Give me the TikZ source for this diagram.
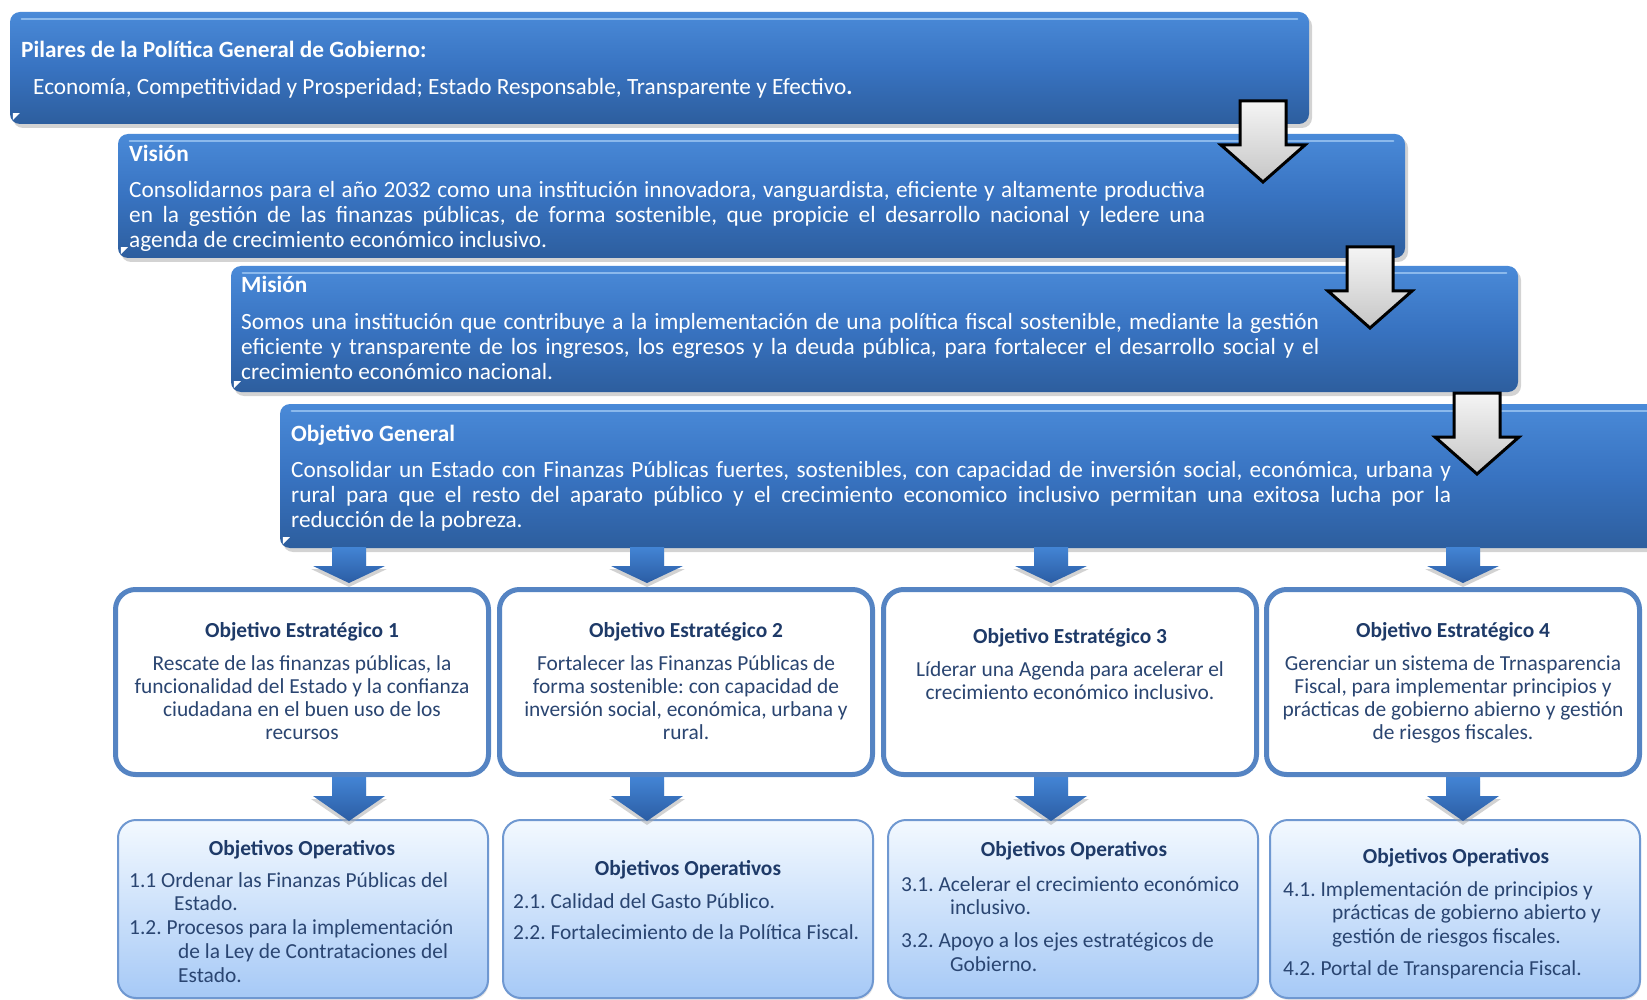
\documentclass[tikz,border=0pt]{standalone}
\usepackage{fontspec}
\setmainfont{Carlito}
\usepackage{xcolor}
\usepackage{tikz}
\usetikzlibrary{positioning,shadows}

\definecolor{boxtop}{HTML}{4A8AD8}
\definecolor{boxmid}{HTML}{3873C1}
\definecolor{boxbot}{HTML}{2D5E9E}
\definecolor{gloss}{HTML}{9CC6F2}
\definecolor{estline}{HTML}{5584C3}
\definecolor{opline}{HTML}{6F98D1}
\definecolor{optop}{HTML}{F3F9FF}
\definecolor{opbot}{HTML}{A6C9F6}
\definecolor{navy}{HTML}{1E3A68}
\definecolor{bodytxt}{HTML}{2A4571}
\definecolor{arrtop}{HTML}{4384D4}
\definecolor{arrbot}{HTML}{2B5DA4}

\begin{document}
\begin{tikzpicture}[x=1pt,y=-1pt,
    bluebox/.style={rounded corners=10pt, top color=boxtop, bottom color=boxbot, middle color=boxmid,
        drop shadow={shadow xshift=3pt, shadow yshift=-4pt, opacity=0.35}},
    wtext/.style={white, inner sep=0pt, font=\fontsize{23.3}{25.2}\selectfont\frenchspacing},
    wtitle/.style={wtext, font=\fontsize{23.3}{25.2}\selectfont\bfseries, anchor=base west},
    wpar/.style={wtext, align=justify, anchor=north west},
    estbox/.style={rounded corners=20pt, draw=estline, line width=5pt, fill=white,
        minimum width=373pt, minimum height=185pt},
    opbox/.style={rounded corners=18pt, draw=opline, line width=2pt, top color=optop, bottom color=opbot,
        minimum width=370pt, minimum height=178pt,
        drop shadow={shadow xshift=1pt, shadow yshift=-2pt, opacity=0.2}},
    btitle/.style={navy, inner sep=0pt, font=\fontsize{21.4}{23.3}\selectfont\bfseries, anchor=base},
    btext/.style={bodytxt, inner sep=0pt, font=\fontsize{21.4}{23.3}\selectfont\frenchspacing},
    optext/.style={btext, font=\fontsize{21.4}{23.9}\selectfont\frenchspacing, align=left, anchor=north west},
    grayarr/.style={draw=black, line width=3pt, top color=gray!8, bottom color=gray!45},
    bluearr/.style={top color=arrtop, bottom color=arrbot}]
    \useasboundingbox (0,0) rectangle (1647,1000);
    \clip (0,0) rectangle (1647,1000);

    % big blue boxes
    \node[bluebox, minimum width=1299pt, minimum height=112pt] (pil) at (659.5,68) {};
    \node[bluebox, minimum width=1287pt, minimum height=124pt] (vis) at (761.5,196) {};
    \node[bluebox, minimum width=1287pt, minimum height=126pt] (mis) at (874.5,329) {};
    \node[bluebox, minimum width=1440pt, minimum height=144pt] (og) at (1000,476) {};
    \foreach \b in {pil,vis,mis,og}{
        \draw[gloss, line width=2.5pt, line cap=round, opacity=0.8]
            ([xshift=12pt,yshift=-7pt]\b.north west) -- ([xshift=-12pt,yshift=-7pt]\b.north east);
        \fill[white] ([xshift=3pt,yshift=11pt]\b.south west) -- ++(7,0) -- ++(-7,7) -- cycle;
    }

    % texts of the blue boxes
    \node[wtitle] (pilT) at (21,58) {Pilares de la Política General de Gobierno:};
    \node[wtext, anchor=base west] (pilB) at (33,95)
        {Economía, Competitividad y Prosperidad; Estado Responsable, Transparente y Efectivo\textbf{.}};

    \node[wtitle] (visT) at (129,162) {Visión};
    \node[wpar, text width=1076pt] (visB) at (129,181)
        {Consolidarnos para el año 2032 como una institución innovadora, vanguardista, eficiente y altamente productiva\linebreak
        en la gestión de las finanzas públicas, de forma sostenible, que propicie el desarrollo nacional y ledere una\linebreak
        agenda de crecimiento económico inclusivo.};

    \node[wtitle] (misT) at (241,293) {Misión};
    \node[wpar, text width=1078pt] (misB) at (241,313)
        {Somos una institución que contribuye a la implementación de una política fiscal sostenible, mediante la gestión\linebreak
        eficiente y transparente de los ingresos, los egresos y la deuda pública, para fortalecer el desarrollo social y el\linebreak
        crecimiento económico nacional.};

    \node[wtitle] (ogT) at (291,441) {Objetivo General};
    \node[wpar, text width=1160pt] (ogB) at (291,461)
        {Consolidar un Estado con Finanzas Públicas fuertes, sostenibles, con capacidad de inversión social, económica, urbana y\linebreak
        rural para que el resto del aparato público y el crecimiento economico inclusivo permitan una exitosa lucha por la\linebreak
        reducción de la pobreza.};

    % gray arrows between blue boxes
    \foreach \cx/\ty in {1263/101,1370/247,1477/393}{
        \draw[grayarr] (\cx-23,\ty) -- (\cx+23,\ty) -- (\cx+23,\ty+44) -- (\cx+42,\ty+44)
            -- (\cx,\ty+81) -- (\cx-42,\ty+44) -- (\cx-23,\ty+44) -- cycle;
    }

    % strategic boxes
    \node[estbox] (es1) at (302,682) {};
    \node[estbox] (es2) at (686,682) {};
    \node[estbox] (es3) at (1070,682) {};
    \node[estbox] (es4) at (1453,682) {};

    \node[btitle] (es1T) at (302,637) {Objetivo Estratégico 1};
    \node[btext, align=center, anchor=north] (es1B) at (302,655)
        {Rescate de las finanzas públicas, la\\funcionalidad del Estado y la confianza\\ciudadana en el buen uso de los\\recursos};
    \node[btitle] (es2T) at (686,637) {Objetivo Estratégico 2};
    \node[btext, align=center, anchor=north] (es2B) at (686,655)
        {Fortalecer las Finanzas Públicas de\\forma sostenible: con capacidad de\\inversión social, económica, urbana y\\rural.};
    \node[btitle] (es3T) at (1070,643) {Objetivo Estratégico 3};
    \node[btext, align=center, anchor=north] (es3B) at (1070,661)
        {Líderar una Agenda para acelerar el\\crecimiento económico inclusivo.};
    \node[btitle] (es4T) at (1453,637) {Objetivo Estratégico 4};
    \node[btext, align=center, anchor=north] (es4B) at (1453,655)
        {Gerenciar un sistema de Trnasparencia\\Fiscal, para implementar principios y\\prácticas de gobierno abierno y gestión\\de riesgos fiscales.};

    % operative boxes
    \node[opbox] (op1) at (303,909) {};
    \node[opbox] (op2) at (688,909) {};
    \node[opbox] (op3) at (1073,909) {};
    \node[opbox] (op4) at (1455,909) {};

    \node[btitle] (op1T) at (302,855) {Objetivos Operativos};
    \node[optext] (op1B) at (129,872)
        {1.1 Ordenar las Finanzas Públicas del\\\hspace*{45pt}Estado.\\1.2. Procesos para la implementación\\
        \hspace*{49pt}de la Ley de Contrataciones del\\\hspace*{49pt}Estado.};
    \node[btitle] (op2T) at (688,875) {Objetivos Operativos};
    \node[optext] (op2B) at (513,893)
        {2.1. Calidad del Gasto Público.\\[8pt]2.2. Fortalecimiento de la Política Fiscal.};
    \node[btitle] (op3T) at (1074,856) {Objetivos Operativos};
    \node[optext] (op3B) at (901,876)
        {3.1. Acelerar el crecimiento económico\\\hspace*{49pt}inclusivo.\\[9pt]3.2. Apoyo a los ejes estratégicos de\\
        \hspace*{49pt}Gobierno.};
    \node[btitle] (op4T) at (1456,863) {Objetivos Operativos};
    \node[optext] (op4B) at (1283,881)
        {4.1. Implementación de principios y\\\hspace*{49pt}prácticas de gobierno abierto y\\
        \hspace*{49pt}gestión de riesgos fiscales.\\[8pt]4.2. Portal de Transparencia Fiscal.};

    % blue arrows down to the boxes
    \foreach \cx in {349,647,1051,1463}{
        \foreach \ty/\tb in {547/583,777/821}{
            \fill[black!35, opacity=0.5] (\cx-17,\ty+4) -- (\cx+17,\ty+4) -- (\cx+17,\ty+22) -- (\cx+38,\ty+22)
                -- (\cx,\tb+4) -- (\cx-38,\ty+22) -- (\cx-17,\ty+22) -- cycle;
            \path[bluearr] (\cx-17,\ty) -- (\cx+17,\ty) -- (\cx+17,\ty+19) -- (\cx+36,\ty+19)
                -- (\cx,\tb) -- (\cx-36,\ty+19) -- (\cx-17,\ty+19) -- cycle;
        }
    }
\end{tikzpicture}
\end{document}
